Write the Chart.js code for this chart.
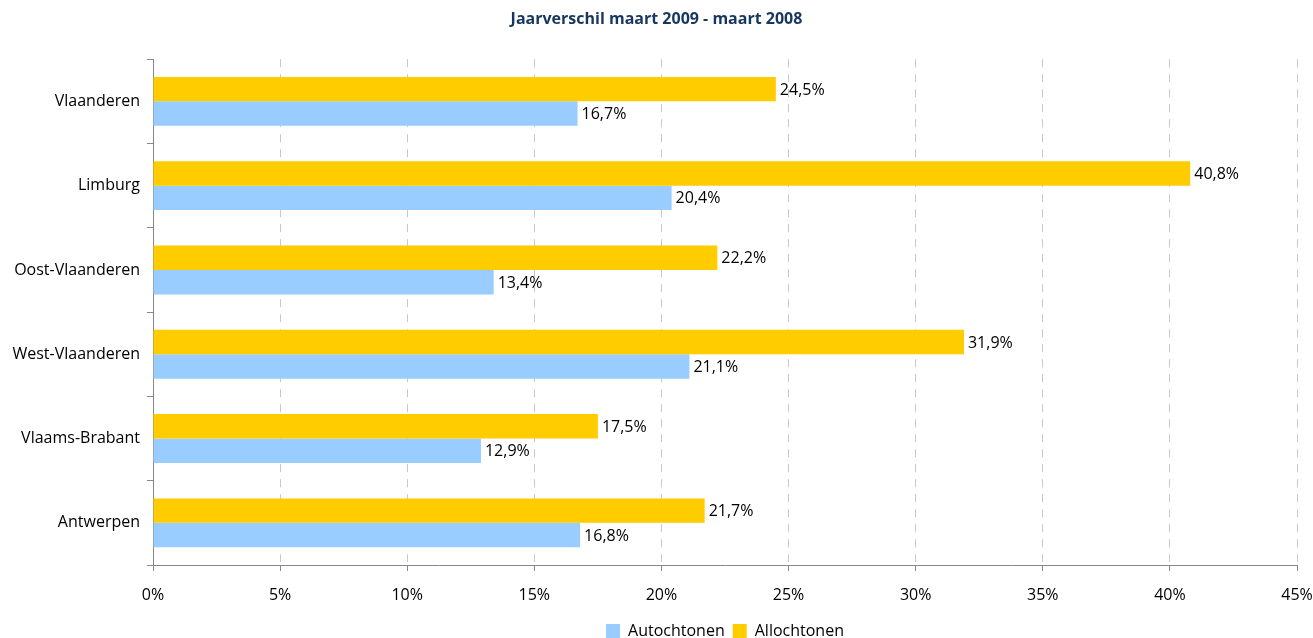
<!DOCTYPE html>
<html>
<head>
<meta charset="utf-8">
<script src="https://cdn.jsdelivr.net/npm/chart.js@4.4.1/dist/chart.umd.min.js"></script>
<style>
  html, body { margin: 0; padding: 0; background: #fff; }
  #wrap { width: 1313px; height: 638px; }
</style>
</head>
<body>
<div id="wrap"><canvas id="chart" width="1313" height="638"></canvas></div>
<script>
// data
const regions = ['Vlaanderen', 'Limburg', 'Oost-Vlaanderen', 'West-Vlaanderen', 'Vlaams-Brabant', 'Antwerpen']
const allochtonen = [24.5, 40.8, 22.2, 31.9, 17.5, 21.7]
const autochtonen = [16.7, 20.4, 13.4, 21.1, 12.9, 16.8]
const xTicks = [0, 5, 10, 15, 20, 25, 30, 35, 40, 45]

const FONT = "'Open Sans', sans-serif"

// value labels next to each bar, Excel style "24,5%"
const barLabels = {
  id: 'barLabels',
  afterDatasetsDraw(chart) {
    const ctx = chart.ctx
    ctx.save()
    ctx.font = "16px " + FONT
    ctx.fillStyle = '#000'
    ctx.textBaseline = 'middle'
    chart.data.datasets.forEach((ds, i) => {
      chart.getDatasetMeta(i).data.forEach((bar, j) => {
        const txt = ds.data[j].toFixed(1).replace('.', ',') + '%'
        ctx.fillText(txt, bar.x + 4, bar.y + 1)
      })
    })
    ctx.restore()
  }
}

new Chart(document.getElementById('chart'), {
  type: 'bar',
  data: {
    labels: regions,
    datasets: [
      { label: 'Allochtonen', data: allochtonen, backgroundColor: '#FFCC00',
        categoryPercentage: 0.58, barPercentage: 1 },
      { label: 'Autochtonen', data: autochtonen, backgroundColor: '#99CCFF',
        categoryPercentage: 0.58, barPercentage: 1 }
    ]
  },
  plugins: [barLabels],
  options: {
    indexAxis: 'y',
    responsive: false,
    animation: false,
    layout: { padding: { left: 0, right: 0, top: 0, bottom: -11 } },
    scales: {
      x: {
        min: 0, max: 45,
        afterBuildTicks: (s) => { s.ticks = xTicks.map(v => ({ value: v })) },
        afterFit: (s) => { s.height = 50; s.paddingRight = 16 },
        ticks: {
          callback: (v) => v + '%',
          color: '#000',
          font: { family: FONT, size: 16 },
          padding: 15
        },
        grid: {
          color: (c) => c.tick && c.tick.value === 0 ? 'rgba(0,0,0,0)' : '#C8C8C8',
          tickBorderDash: [],
          tickColor: '#888',
          tickLength: 6
        },
        border: { color: '#888', width: 1, dash: [8, 7] }
      },
      y: {
        afterFit: (s) => { s.width = 153 },
        ticks: {
          color: '#000',
          font: { family: FONT, size: 16 },
          padding: 7
        },
        grid: {
          drawOnChartArea: false,
          offset: true,
          tickColor: '#888',
          tickLength: 6
        },
        border: { color: '#888', width: 1 }
      }
    },
    plugins: {
      title: {
        display: true,
        text: 'Jaarverschil maart 2009 - maart 2008',
        color: '#17375E',
        font: { family: FONT, size: 16, weight: 'bold' },
        padding: { top: 10, bottom: 30 }
      },
      legend: {
        position: 'bottom',
        reverse: true,
        fullSize: false,
        labels: {
          color: '#000',
          font: { family: FONT, size: 16 },
          boxWidth: 14,
          boxHeight: 14,
          padding: 8
        }
      },
      tooltip: { enabled: false }
    }
  }
})
</script>
</body>
</html>
